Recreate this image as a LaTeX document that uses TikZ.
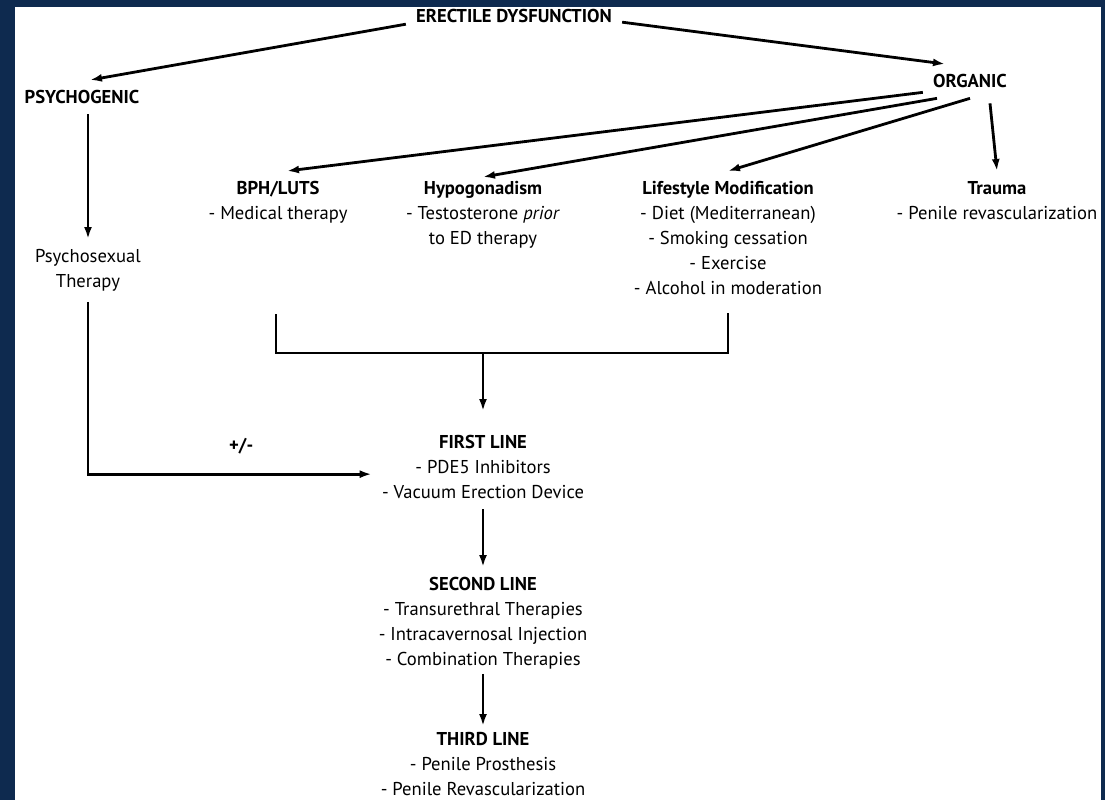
\documentclass[tikz,border=0pt]{standalone}
\usepackage{fontspec}
\setmainfont{PT Sans}
\usetikzlibrary{arrows.meta}

\begin{document}
\begin{tikzpicture}[x=0.5pt, y=-0.5pt,
  txt/.style={anchor=north, align=center, inner sep=5pt, font=\fontsize{9.3}{12.5}\selectfont},
  arr/.style={-{Latex[length=6pt,width=4pt]}, line width=1.4pt},
  line/.style={line width=1.4pt}]
\useasboundingbox (0,0) rectangle (1105,800);
\definecolor{navy}{HTML}{0E2A4F}
\fill[navy] (0,0) rectangle (1105,800);
\fill[white] (15,7) rectangle (1101,800);
% top level
\node[txt] (ed) at (514,-1) {\textbf{ERECTILE DYSFUNCTION}};
\node[txt] (psy) at (82,80) {\textbf{PSYCHOGENIC}};
\node[txt] (org) at (970,64) {\textbf{ORGANIC}};
% organic causes
\node[txt] (bph) at (278,171) {\textbf{BPH/LUTS}\\- Medical therapy};
\node[txt] (hypo) at (483,171) {\textbf{Hypogonadism}\\- Testosterone \textit{prior}\\to ED therapy};
\node[txt] (life) at (728,171) {\textbf{Lifestyle Modification}\\- Diet (Mediterranean)\\- Smoking cessation\\- Exercise\\- Alcohol in moderation};
\node[txt] (trauma) at (997,171) {\textbf{Trauma}\\- Penile revascularization};
\node[txt] (psyther) at (88,239) {Psychosexual\\Therapy};
% treatment lines
\node[txt] (first) at (483,425) {\textbf{FIRST LINE}\\- PDE5 Inhibitors\\- Vacuum Erection Device};
\node[txt] (second) at (483,567) {\textbf{SECOND LINE}\\- Transurethral Therapies\\- Intracavernosal Injection\\- Combination Therapies};
\node[txt] (third) at (483,722) {\textbf{THIRD LINE}\\- Penile Prosthesis\\- Penile Revascularization};
\coordinate (bl) at (276,314);
\coordinate (br) at (728,313);
\coordinate (merge) at (483,353);
% connectors
\draw[arr] ([yshift=-4pt]ed.west) -- ([xshift=4pt]psy.north);
\draw[arr] ([yshift=-3pt]ed.east) -- ([xshift=-12.5pt]org.north);
\draw[arr] ([yshift=3pt]org.south west) -- ([xshift=4.5pt]bph.north);
\draw[arr] ([xshift=-16.5pt]org.south) -- ([yshift=-3pt]hypo.north);
\draw[arr] (org.south) -- (life.north);
\draw[arr] ([xshift=10pt,yshift=-2.5pt]org.south) -- (trauma.north);
\draw[arr] (psy.south -| psyther.north) -- (psyther.north);
\draw[arr] (psyther.south) |- ([yshift=-3.5pt]first.west) node[pos=0.77, above=6pt, font=\fontsize{9.3}{12.5}\selectfont\bfseries] (pm) {+/-};
\draw[line] (bl) |- (merge) -| (br);
\draw[arr] (merge) -- ([yshift=7pt]first.north);
\draw[arr] (first.south) -- (second.north);
\draw[arr] ([yshift=3pt]second.south) -- ([yshift=-2pt]third.north);
\end{tikzpicture}
\end{document}
